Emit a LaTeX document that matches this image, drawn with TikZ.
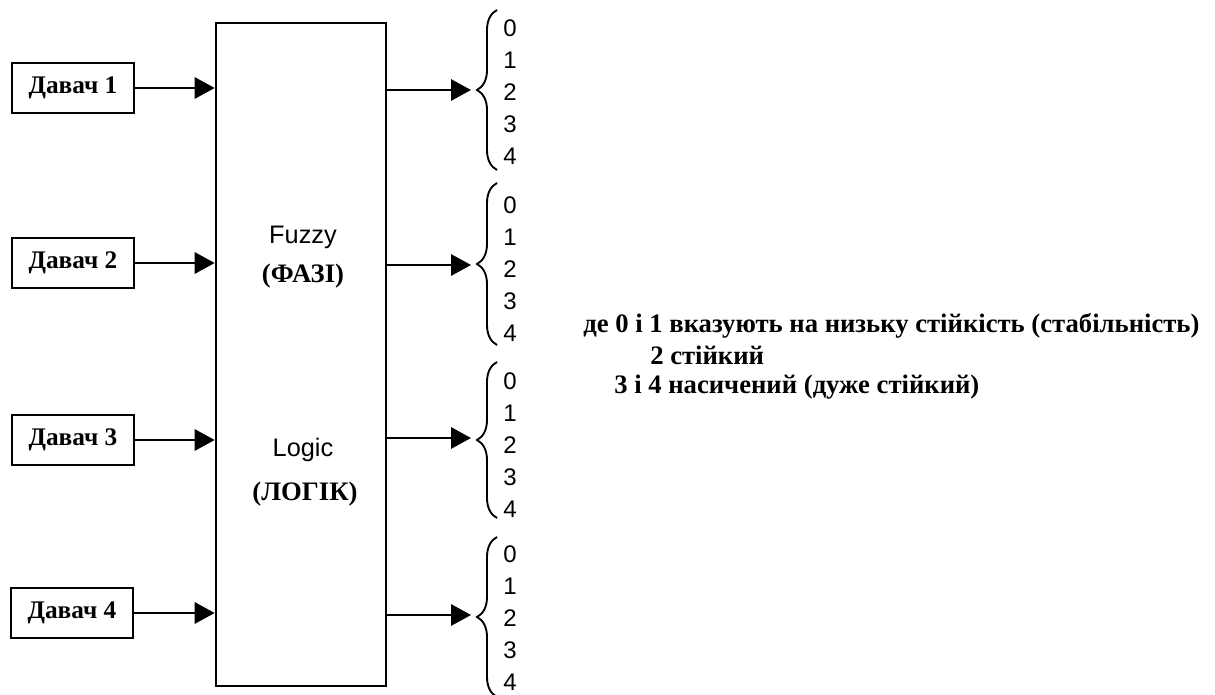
\documentclass[tikz,border=0pt]{standalone}
\usepackage{fontspec}
\setmainfont{Liberation Serif}
\setsansfont{Liberation Sans}
\usetikzlibrary{arrows.meta,decorations.pathreplacing}
\tikzset{
	sensor/.style={draw,line width=2pt,minimum width=91.5pt,minimum height=37.5pt,inner sep=0pt,font=\bfseries\fontsize{19}{22}\selectfont},
	arr/.style={line width=1.6pt,-{Triangle[length=15pt,width=16pt]}},
	levels/.style={align=center,inner sep=0pt,font=\sffamily\fontsize{18}{24}\selectfont},
	curly/.style={decorate,decoration={brace,amplitude=15pt},line width=1.4pt},
	note/.style={anchor=west,inner sep=0pt,font=\bfseries\fontsize{20}{22}\selectfont}
}
\begin{document}
\begin{tikzpicture}[x=0.75pt,y=-0.75pt]
	\useasboundingbox (0,0) rectangle (1215,695);
	\node[draw,line width=2pt,minimum width=127.5pt,minimum height=497pt] (F) at (301,354.5) {};
	\node[font=\sffamily\fontsize{19}{22}\selectfont] (Fz) at (303,237) {Fuzzy};
	\node[font=\bfseries\fontsize{20}{22}\selectfont] (Fa) at (303,276) {(ФАЗІ)};
	\node[font=\sffamily\fontsize{19}{22}\selectfont] (Lg) at (303,450) {Logic};
	\node[font=\bfseries\fontsize{20}{22}\selectfont] (Lo) at (305,494) {(ЛОГІК)};
	\node[sensor] (D1) at (73,88) {Давач 1};
	\node[sensor] (D2) at (73,263) {Давач 2};
	\node[sensor] (D3) at (73,440) {Давач 3};
	\node[sensor] (D4) at (72,613) {Давач 4};
	\draw[arr] (D1.east) -- (D1 -| F.west);
	\draw[arr] (D2.east) -- (D2 -| F.west);
	\draw[arr] (D3.east) -- (D3 -| F.west);
	\draw[arr] (D4.east) -- (D4 -| F.west);
	\coordinate (O1) at (471,90);
	\coordinate (O2) at (471,265);
	\coordinate (O3) at (471,438);
	\coordinate (O4) at (471,615);
	\draw[arr] (F.east |- O1) -- (O1);
	\draw[arr] (F.east |- O2) -- (O2);
	\draw[arr] (F.east |- O3) -- (O3);
	\draw[arr] (F.east |- O4) -- (O4);
	\draw[curly] (497,170) -- (497,10);
	\draw[curly] (497,345) -- (497,183);
	\draw[curly] (497,518) -- (497,362);
	\draw[curly] (497,697) -- (497,537);
	\node[levels] (L1) at (510,92) {0\\1\\2\\3\\4};
	\node[levels] (L2) at (510,269) {0\\1\\2\\3\\4};
	\node[levels] (L3) at (510,445) {0\\1\\2\\3\\4};
	\node[levels] (L4) at (510,618) {0\\1\\2\\3\\4};
	\node[note] (N1) at (583,326) {де 0 і 1 вказують на низьку стійкість (стабільність)};
	\node[note] (N2) at (650,355) {2 стійкий};
	\node[note] (N3) at (614,387) {3 і 4 насичений (дуже стійкий)};
\end{tikzpicture}
\end{document}
